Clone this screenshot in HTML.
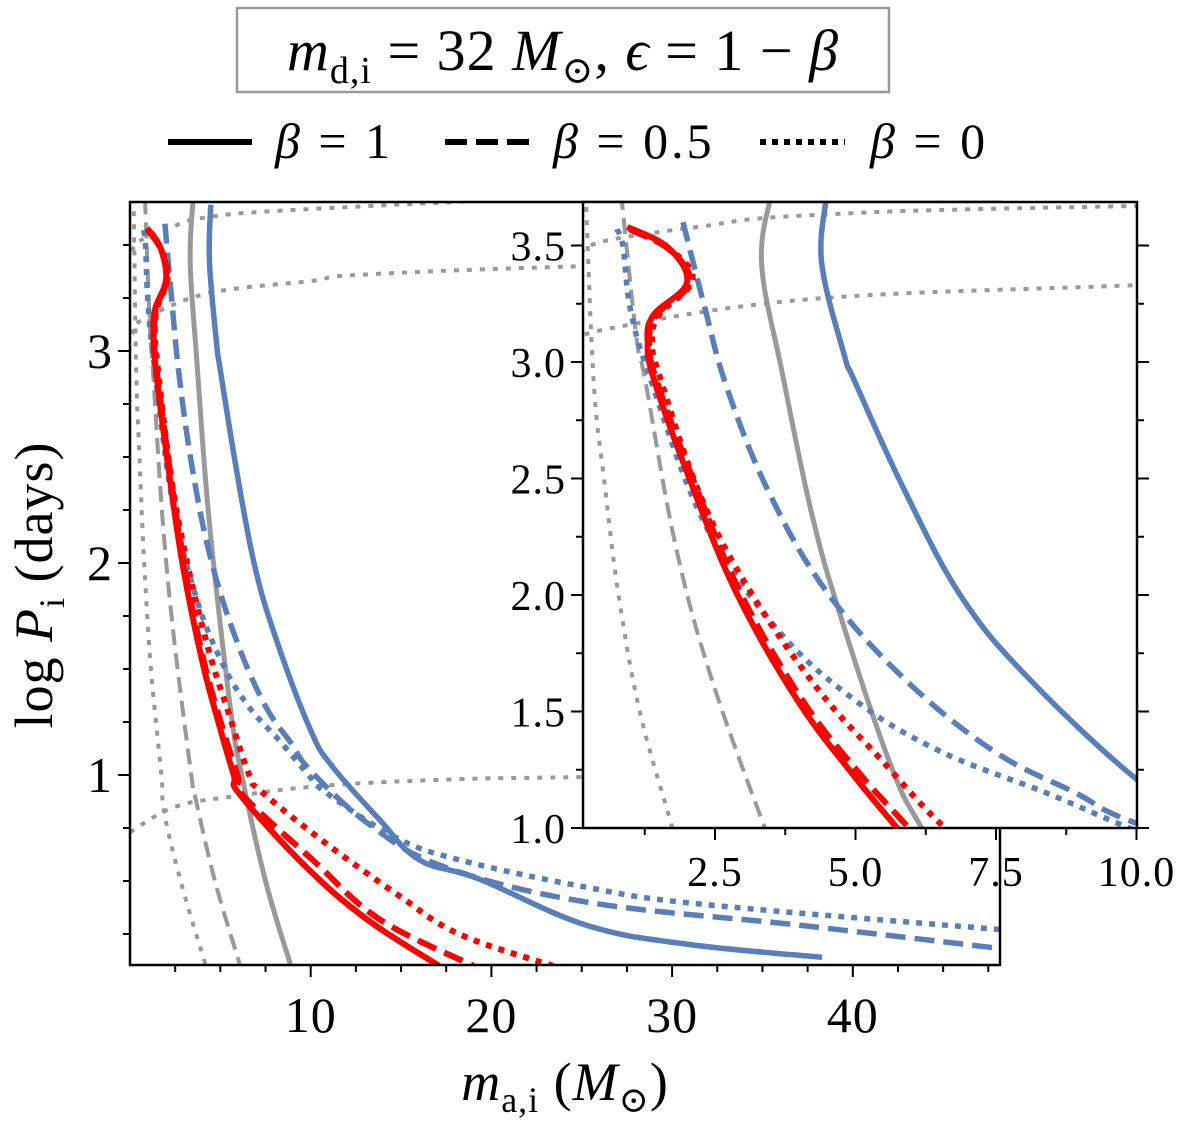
<!DOCTYPE html>
<html><head><meta charset="utf-8"><style>
html,body{margin:0;padding:0;background:#fff;}
svg{display:block;}
svg text{font-family:"Liberation Serif","DejaVu Serif",serif;}
</style></head><body>
<svg id="chart" width="1200" height="1139" viewBox="0 0 1200 1139" xmlns="http://www.w3.org/2000/svg" font-family="Liberation Serif, DejaVu Serif, serif">
<defs>
<clipPath id="mainClip"><rect x="130" y="202" width="870" height="763"/></clipPath>
<clipPath id="insetClip"><rect x="583" y="202" width="554" height="626"/></clipPath>
</defs>
<g>
<rect x="237" y="8" width="652" height="84" fill="#fff" stroke="#999" stroke-width="2.5"/>
<text x="563" y="70" text-anchor="middle" font-size="58" letter-spacing="1"><tspan font-style="italic">m</tspan><tspan font-size="38" dy="13">d,i</tspan><tspan dy="-13"> = 32 </tspan><tspan font-style="italic">M</tspan><tspan font-size="38" dy="13">⊙</tspan><tspan dy="-13">, </tspan><tspan font-style="italic">ϵ</tspan><tspan> = 1 − </tspan><tspan font-style="italic">β</tspan></text>
</g>
<g>
<g><line x1="168" y1="142" x2="252" y2="142" stroke="#000" stroke-width="6"/><text x="275" y="158" font-size="50" letter-spacing="3"><tspan font-style="italic">β</tspan> = 1</text></g>
<g><line x1="445" y1="142" x2="529" y2="142" stroke="#000" stroke-width="6" stroke-dasharray="22,9"/><text x="553" y="158" font-size="50" letter-spacing="3"><tspan font-style="italic">β</tspan> = 0.5</text></g>
<g><line x1="760" y1="142" x2="845" y2="142" stroke="#000" stroke-width="6" stroke-dasharray="6,6"/><text x="870" y="158" font-size="50" letter-spacing="3"><tspan font-style="italic">β</tspan> = 0</text></g>
</g>
<g id="mainLines" clip-path="url(#mainClip)"></g>
<g id="mainAxes"></g>
<rect x="583" y="202" width="554" height="626" fill="#fff"/>
<g id="insetLines" clip-path="url(#insetClip)"></g>
<g id="insetAxes"></g>
<text x="565" y="1100" text-anchor="middle" font-size="54" letter-spacing="1"><tspan font-style="italic">m</tspan><tspan font-size="36" dy="12">a,i</tspan><tspan dy="-12"> (</tspan><tspan font-style="italic">M</tspan><tspan font-size="36" dy="12">⊙</tspan><tspan dy="-12">)</tspan></text>
<text transform="translate(52,585) rotate(-90)" text-anchor="middle" font-size="54" letter-spacing="1">log <tspan font-style="italic">P</tspan><tspan font-size="36" dy="12">i</tspan><tspan dy="-12"> (days)</tspan></text>
</svg>
<script>
// ---- data (ma in Msun, logP in days) ----
const redSolidMa   = [0.94,1.67,2.0,1.4,1.3,1.42,2.06,2.88,3.96,4.92,5.74,6.1,9.7,13.1,17.1];
const redSolidLogP = [3.58,3.49,3.34,3.2,3.08,2.92,2.49,2.01,1.55,1.24,1.0,0.906,0.57,0.32,0.10];
const redDashedMa   = [0.98,1.7,2.05,1.45,1.33,1.46,2.12,2.95,4.05,5.05,5.95,6.3,10.1,13.8,19.0];
const redDashedLogP = [3.57,3.48,3.34,3.2,3.08,2.92,2.49,2.01,1.55,1.24,1.0,0.9,0.6,0.32,0.10];
const redDottedMa   = [1.0,1.72,2.1,1.5,1.38,1.54,2.25,3.14,4.35,5.43,6.6,7.3,10.8,14.9,18.2,23.4];
const redDottedLogP = [3.57,3.48,3.35,3.2,3.08,2.92,2.42,2.01,1.59,1.30,1.0,0.92,0.68,0.43,0.25,0.10];
const blueSolidMa   = [4.47,4.4,4.8,4.98,5.87,6.89,8.09,10.0,11.2,13.8,16.0,19.3,25.3,31.0,38.3];
const blueSolidLogP = [3.69,3.42,3.03,2.92,2.45,1.99,1.64,1.21,1.04,0.79,0.6,0.51,0.29,0.2,0.14];
const blueDashedMa   = [1.93,2.3,2.71,3.46,4.47,5.87,7.46,8.92,10.0,13.2,17.3,25.3,37.2,48.3];
const blueDashedLogP = [3.6,3.25,2.89,2.44,2.02,1.64,1.33,1.15,1.02,0.77,0.57,0.4,0.29,0.18];
const blueDottedMa   = [0.75,0.86,1.0,1.36,2.31,3.58,4.98,6.5,8.4,9.87,10.8,14.6,18.2,25.3,31.7,48.3];
const blueDottedLogP = [3.57,3.5,3.22,2.92,2.31,1.86,1.55,1.33,1.15,1.0,0.92,0.71,0.6,0.47,0.39,0.27];
const graySolidMa   = [3.5,3.33,3.7,4.22,4.72,5.61,6.18,7.5,8.9];
const graySolidLogP = [3.72,3.42,2.95,2.35,1.92,1.28,1.0,0.5,0.1];
const grayDashedMa   = [0.83,1.1,1.26,1.8,2.44,3.39,3.6,4.7,6.1];
const grayDashedLogP = [3.72,3.11,2.92,2.21,1.64,1.0,0.9,0.5,0.1];
const grayDottedVMa   = [0.2,0.34,0.53,0.79,1.17,1.74,1.9,2.9,4.2];
const grayDottedVLogP = [3.72,2.92,2.49,1.99,1.49,1.0,0.82,0.47,0.1];
const grayDottedAMa   = [0.1,0.55,2.2,4.2,10,30];
const grayDottedALogP = [3.47,3.52,3.58,3.63,3.67,3.75];
const grayDottedBMa   = [0.1,0.55,4.2,10,12.8,25,48.3];
const grayDottedBLogP = [3.08,3.14,3.27,3.33,3.36,3.40,3.45];
const grayDottedCMa   = [0,2.5,5.8,10.8,18.2,25,48.3];
const grayDottedCLogP = [0.73,0.85,0.9,0.95,0.98,0.99,1.02];
const mainXTicks = [10,20,30,40];
const mainYTicks = [1,2,3];
const insetXTicks = [2.5,5.0,7.5,10.0];
const insetYTicks = [1.0,1.5,2.0,2.5,3.0,3.5];

const NS = "http://www.w3.org/2000/svg";
const mx = v => 130 + 18.07 * v, my = v => 775 - 212 * (v - 1);
const ix = v => 574.5 + 56.2 * v, iy = v => 362 - 233 * (v - 3);
const BLUE = "#5a7fb8", RED = "#ff0000", GRAY = "#999999";
const series = [
  ["gray-dotted-a", grayDottedAMa, grayDottedALogP, GRAY, 4, "5,8"],
  ["gray-dotted-b", grayDottedBMa, grayDottedBLogP, GRAY, 4, "5,8"],
  ["gray-dotted-c", grayDottedCMa, grayDottedCLogP, GRAY, 4, "5,8"],
  ["gray-dotted-v", grayDottedVMa, grayDottedVLogP, GRAY, 4, "5,8"],
  ["gray-dashed", grayDashedMa, grayDashedLogP, GRAY, 4, "16,8"],
  ["gray-solid", graySolidMa, graySolidLogP, GRAY, 5, ""],
  ["blue-solid", blueSolidMa, blueSolidLogP, BLUE, 5.5, ""],
  ["blue-dashed", blueDashedMa, blueDashedLogP, BLUE, 5.5, "20,9"],
  ["blue-dotted", blueDottedMa, blueDottedLogP, BLUE, 5.5, "6,7"],
  ["red-dotted", redDottedMa, redDottedLogP, RED, 6, "6,7"],
  ["red-dashed", redDashedMa, redDashedLogP, RED, 6, "20,9"],
  ["red-solid", redSolidMa, redSolidLogP, RED, 6, ""]
];
function smoothPath(pts){
  let d = "M" + pts[0][0].toFixed(1) + "," + pts[0][1].toFixed(1);
  for (let i = 0; i < pts.length - 1; i++){
    const p0 = pts[i-1] || pts[i], p1 = pts[i], p2 = pts[i+1], p3 = pts[i+2] || p2;
    const t = 0.18;
    const c1 = [p1[0] + (p2[0]-p0[0])*t, p1[1] + (p2[1]-p0[1])*t];
    const c2 = [p2[0] - (p3[0]-p1[0])*t, p2[1] - (p3[1]-p1[1])*t];
    d += " C" + c1[0].toFixed(1)+","+c1[1].toFixed(1)+" "+c2[0].toFixed(1)+","+c2[1].toFixed(1)+" "+p2[0].toFixed(1)+","+p2[1].toFixed(1);
  }
  return d;
}
function drawSeries(g, fx, fy, prefix){
  series.forEach(s => {
    const p = document.createElementNS(NS, "path");
    p.setAttribute("d", smoothPath(s[1].map((v,i) => [fx(v), fy(s[2][i])])));
    p.setAttribute("fill","none"); p.setAttribute("stroke", s[3]);
    p.setAttribute("stroke-width", s[4]); p.setAttribute("stroke-linejoin","round");
    if (s[5]) p.setAttribute("stroke-dasharray", s[5]);
    
    
    g.appendChild(p);
  });
}
function line(g,x1,y1,x2,y2,w,name){
  const l=document.createElementNS(NS,"line");
  l.setAttribute("x1",x1);l.setAttribute("y1",y1);l.setAttribute("x2",x2);l.setAttribute("y2",y2);
  l.setAttribute("stroke","#000");l.setAttribute("stroke-width",w);
  
  
  g.appendChild(l);
}
function text(g,x,y,s,size,anchor,name){
  const t=document.createElementNS(NS,"text");
  t.setAttribute("x",x);t.setAttribute("y",y);t.setAttribute("font-size",size);t.setAttribute("text-anchor",anchor);
  t.setAttribute("letter-spacing","1");
  t.textContent=s;
  
  
  g.appendChild(t);
}
drawSeries(document.getElementById("mainLines"), mx, my, "main-");
drawSeries(document.getElementById("insetLines"), ix, iy, "inset-");
// main axes
const ma = document.getElementById("mainAxes");
const fr = document.createElementNS(NS,"rect");
fr.setAttribute("x",130);fr.setAttribute("y",202);fr.setAttribute("width",870);fr.setAttribute("height",763);
fr.setAttribute("fill","none");fr.setAttribute("stroke","#000");fr.setAttribute("stroke-width",2.5);


ma.appendChild(fr);
for(let v=2.5; v<48.2; v+=2.5){ const maj = Math.abs(v%10)<0.01; line(ma,mx(v),965,mx(v),965+(maj?12:7),2,"main-x-tick"); }
for(let v=0.25; v<3.71; v+=0.25){ const maj = Math.abs(v-Math.round(v))<0.01; line(ma,130,my(v),130-(maj?12:7),my(v),2,"main-y-tick"); }
mainXTicks.forEach(v=>text(ma,mx(v),1032,String(v),50,"middle","main-x-tick-label"));
mainYTicks.forEach(v=>text(ma,100,my(v)+17,String(v),50,"middle","main-y-tick-label"));
// inset axes
const ia = document.getElementById("insetAxes");
const fr2 = document.createElementNS(NS,"rect");
fr2.setAttribute("x",583);fr2.setAttribute("y",202);fr2.setAttribute("width",554);fr2.setAttribute("height",626);
fr2.setAttribute("fill","none");fr2.setAttribute("stroke","#000");fr2.setAttribute("stroke-width",2.5);


ia.appendChild(fr2);
for(let v=1.25; v<10.01; v+=1.25){ const maj = Math.abs((v/2.5)-Math.round(v/2.5))<0.01; line(ia,ix(v),828,ix(v),828+(maj?12:7),2,"inset-x-tick"); }
for(let v=1.0; v<3.7; v+=0.25){ const maj = Math.abs((v*2)-Math.round(v*2))<0.01;
  line(ia,583,iy(v),583-(maj?12:7),iy(v),2,"inset-y-tick");
  line(ia,1137,iy(v),1137+(maj?12:7),iy(v),2,"inset-y-tick-right"); }
insetXTicks.forEach(v=>text(ia,ix(v),886,v.toFixed(1),42,"middle","inset-x-tick-label"));
insetYTicks.forEach(v=>text(ia,566,iy(v)+15,v.toFixed(1),42,"end","inset-y-tick-label"));
</script>
</body></html>
